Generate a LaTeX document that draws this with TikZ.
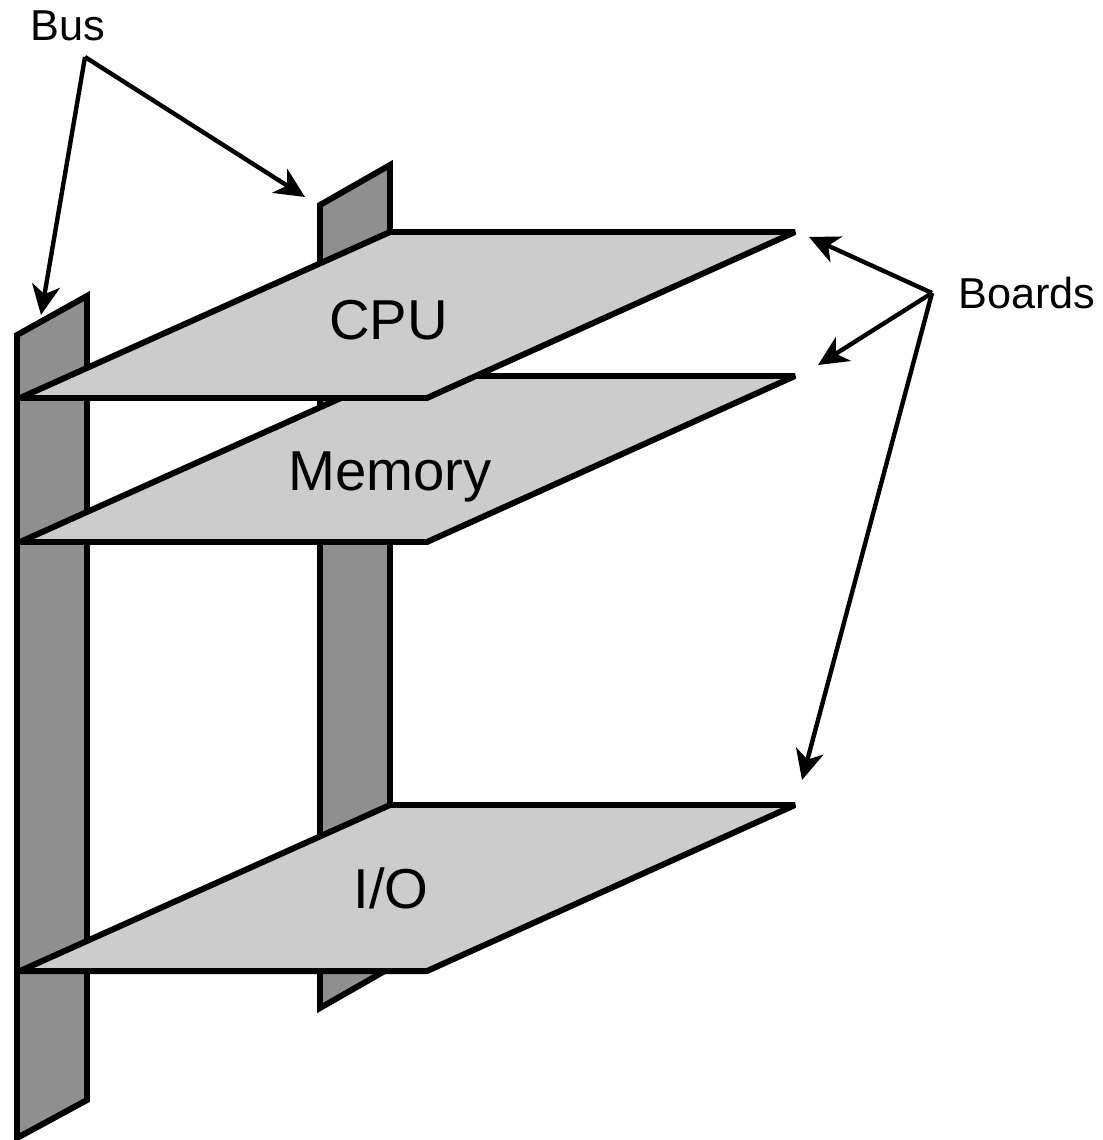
\documentclass[tikz,border=0pt]{standalone}
\usepackage{fontspec}
\setmainfont{Liberation Sans}
\usepackage{xcolor}
\usetikzlibrary{arrows.meta}
\definecolor{barfill}{HTML}{8F8F8F}
\definecolor{boardfill}{HTML}{CCCCCC}
\tikzset{
  barEdge/.style={draw=black, fill=barfill, line width=1.7pt, line join=miter},
  boardEdge/.style={draw=black, fill=boardfill, line width=1.7pt, line join=bevel},
  callArrow/.style={draw=black, line width=1.25pt, -{Stealth[length=8.5pt,width=8pt,inset=2.5pt]}},
  smallLbl/.style={font=\fontsize{12.3}{14}\selectfont, inner sep=0pt},
  bigLbl/.style={font=\fontsize{16}{18}\selectfont, inner sep=0pt, anchor=base},
}
\newcommand{\BoardAt}[1]{%
  \draw[boardEdge] (20,#1+398) -- (390,#1+232) -- (795,#1+232) -- (427,#1+398) -- cycle;
}
\begin{document}
\begin{tikzpicture}[x=0.01cm,y=-0.01cm]
  \useasboundingbox (0,0) rectangle (1102,1140);

  % bus bars
  \draw[barEdge] (320,205) -- (390,165) -- (390,968) -- (320,1008) -- cycle;
  \draw[barEdge] (17,335) -- (87,296) -- (87,1100) -- (17,1138) -- cycle;

  \BoardAt{573}
  \BoardAt{144}
  \BoardAt{0}
  \node[bigLbl] (io) at (391,908) {I/O};
  \node[bigLbl] (memory) at (390,490) {Memory};
  \node[bigLbl] (cpu) at (388.5,340) {CPU};

  \node[smallLbl] (bus) at (68,26) {Bus};
  \node[smallLbl] (boards) at (1027,293) {Boards};

  \coordinate (busFork) at (85,57);
  \coordinate (busFront) at (41,315);
  \coordinate (busBack) at (305,197);
  \draw[callArrow] (busFork) -- (busFront);
  \draw[callArrow] (busFork) -- (busBack);

  \coordinate (boardsFork) at (932,293);
  \coordinate (toCpu) at (809,237);
  \coordinate (toMemory) at (818,365);
  \coordinate (toIo) at (802,780);
  \draw[callArrow] (boardsFork) -- (toCpu);
  \draw[callArrow] (boardsFork) -- (toMemory);
  \draw[callArrow] (boardsFork) -- (toIo);
\end{tikzpicture}
\end{document}
